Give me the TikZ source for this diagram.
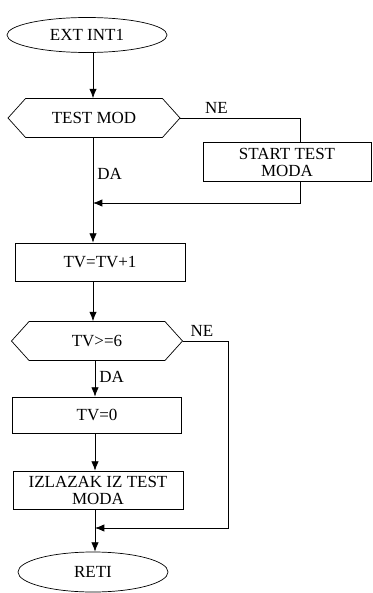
\documentclass[tikz,border=0pt]{standalone}
\usepackage{fontspec}
\setmainfont{Liberation Serif}
\usetikzlibrary{shapes.geometric,shapes.symbols,arrows.meta,positioning}

\tikzset{
  flowend/.style={ellipse,draw,inner sep=0pt},
  flowtest/.style={signal,signal to=west and east,signal pointer angle=96,draw,inner sep=0pt},
  flowbox/.style={rectangle,draw,inner sep=0pt,align=center},
}

\begin{document}
\begin{tikzpicture}[x=0.03cm,y=-0.03cm,>={Latex[length=2.8mm,width=2.2mm]},line width=0.6pt,font=\fontsize{14.5}{14.5}\selectfont]
\useasboundingbox (0,0) rectangle (373,593);
% cvorovi
\node[flowend,minimum width=4.8cm,minimum height=1.05cm] (start) at (87,35) {EXT INT1};
\node[flowtest,minimum width=5.16cm,minimum height=1.17cm] (test1) at (94,118) {TEST MOD};
\node[flowbox,minimum width=5.04cm,minimum height=1.17cm] (moda) at (287,162) {START TEST\\MODA};
\node[flowbox,minimum width=5.1cm,minimum height=1.14cm] (inc) at (100,262) {TV=TV+1};
\node[flowtest,minimum width=5.13cm,minimum height=1.17cm] (test2) at (97,341) {TV>=6};
\node[flowbox,minimum width=5.07cm,minimum height=1.08cm] (reset) at (97,415) {TV=0};
\node[flowbox,minimum width=5.1cm,minimum height=1.14cm] (exit) at (98,490) {IZLAZAK IZ TEST\\MODA};
\node[flowend,minimum width=4.5cm,minimum height=1.2cm] (reti) at (93,572) {RETI};
% tocke spajanja
\coordinate (ne1) at (300,118);
\coordinate (join1) at (93,203);
\coordinate (ne2) at (228,341);
\coordinate (join2) at (95,528);
% veze
\draw[->] (start.south -| join1) -- (test1.north -| join1);
\draw (test1.east) -- node[pos=0.3,above]{NE} (ne1) -- (ne1 |- moda.north);
\draw[->] (ne1 |- moda.south) |- (join1);
\draw (test1.south -| join1) -- node[pos=0.55,right]{DA} (join1);
\draw[->] (join1) -- (join1 |- inc.north);
\draw[->] (inc.south -| join1) -- (test2.north -| join1);
\draw[->] (test2.east) -- node[pos=0.42,above]{NE} (ne2) |- (join2);
\draw[->] (test2.south -| join2) -- node[pos=0.45,right]{DA} (reset.north -| join2);
\draw[->] (reset.south -| join2) -- (exit.north -| join2);
\draw (exit.south -| join2) -- (join2);
\draw[->] (join2) -- (join2 |- reti.north);
\end{tikzpicture}
\end{document}
